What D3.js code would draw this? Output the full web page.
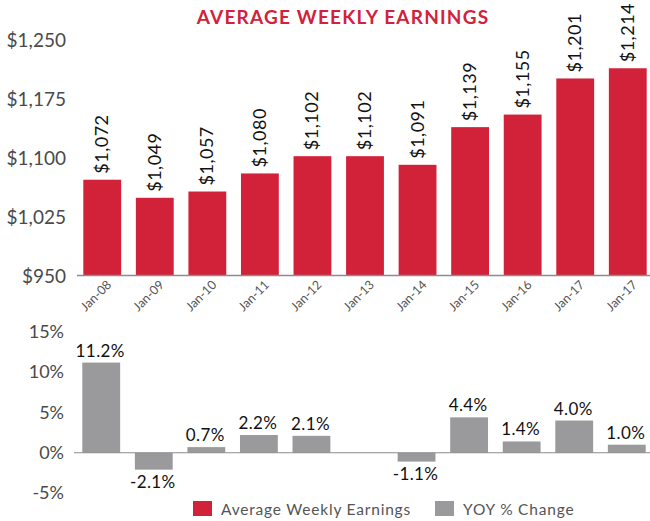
<!DOCTYPE html>
<html>
<head>
<meta charset="utf-8">
<script src="https://cdn.jsdelivr.net/npm/d3@7"></script>
<style>
  body { margin: 0; background: #fff; }
  svg { display: block; font-family: Lato, 'Open Sans', sans-serif; }
</style>
</head>
<body>
<svg id="chart" width="650" height="521"></svg>
<script>
/* global d3 */

var categories = ['Jan-08', 'Jan-09', 'Jan-10', 'Jan-11', 'Jan-12', 'Jan-13', 'Jan-14', 'Jan-15', 'Jan-16', 'Jan-17', 'Jan-17']
var earnings = [1072, 1049, 1057, 1080, 1102, 1102, 1091, 1139, 1155, 1201, 1214]
var yoyChange = [11.2, -2.1, 0.7, 2.2, 2.1, null, -1.1, 4.4, 1.4, 4.0, 1.0]
var earningsTicks = [950, 1025, 1100, 1175, 1250]
var yoyTicks = [-5, 0, 5, 10, 15]
var legendItems = ['Average Weekly Earnings', 'YOY % Change']

;(function () {
  var red = '#d2223a'
  var grey = '#9a9a9c'
  var axisText = '#4a4a4a'

  var svg = d3.select('#chart')

  var x = d3.scaleBand()
    .domain(d3.range(categories.length))
    .range([77, 653])
    .paddingInner(0.28)
    .paddingOuter(0.12)

  // plain hyphen for negatives, like the original
  var pct = v => d3.format('.1f')(v).replace('\u2212', '-') + '%'

  /*
      --------------------------------------
      Title
  */
  svg.append('text')
    .attr('x', 343)
    .attr('y', 24)
    .attr('text-anchor', 'middle')
    .style('font-size', '19px')
    .style('font-weight', 700)
    .style('letter-spacing', '1.2px')
    .style('fill', red)
    .text('AVERAGE WEEKLY EARNINGS')

  /*
      --------------------------------------
      Top chart: average weekly earnings
  */
  var yTop = d3.scaleLinear()
    .domain([950, 1250])
    .range([275.5, 40])

  svg.append('g')
    .selectAll('text')
    .data(earningsTicks)
    .join('text')
    .attr('x', 66)
    .attr('y', d => yTop(d) + 7)
    .attr('text-anchor', 'end')
    .style('font-size', '19px')
    .style('fill', axisText)
    .text(d => d3.format('$,')(d))

  svg.append('g')
    .selectAll('rect')
    .data(earnings)
    .join('rect')
    .attr('x', (d, i) => x(i))
    .attr('width', x.bandwidth())
    .attr('y', d => yTop(d))
    .attr('height', d => yTop(950) - yTop(d))
    .style('fill', red)

  svg.append('line')
    .attr('x1', 77)
    .attr('x2', 650)
    .attr('y1', yTop(950))
    .attr('y2', yTop(950))
    .style('stroke', '#8c8c8c')
    .style('stroke-width', 1.5)

  svg.append('g')
    .selectAll('text')
    .data(earnings)
    .join('text')
    .attr('transform', (d, i) => `translate(${x(i) + x.bandwidth() / 2 + 6},${yTop(d) - 6}) rotate(-90)`)
    .style('font-size', '18px')
    .style('letter-spacing', '0.5px')
    .style('fill', '#111')
    .text(d => d3.format('$,')(d))

  svg.append('g')
    .selectAll('text')
    .data(categories)
    .join('text')
    .attr('transform', (d, i) => `translate(${x(i) + x.bandwidth() / 2 + 10},${yTop(950) + 10}) rotate(-45)`)
    .attr('text-anchor', 'end')
    .style('font-size', '12.5px')
    .style('fill', '#555')
    .text(d => d)

  /*
      --------------------------------------
      Bottom chart: YOY % change
  */
  var yBot = d3.scaleLinear()
    .domain([-5, 15])
    .range([493, 332])

  svg.append('g')
    .selectAll('text')
    .data(yoyTicks)
    .join('text')
    .attr('x', 64)
    .attr('y', d => yBot(d) + 6)
    .attr('text-anchor', 'end')
    .style('font-size', '18px')
    .style('fill', axisText)
    .text(d => d + '%')

  var yoy = yoyChange.map((v, i) => ({v: v, i: i})).filter(d => d.v !== null)

  svg.append('g')
    .selectAll('rect')
    .data(yoy)
    .join('rect')
    .attr('x', d => x(d.i) - 1)
    .attr('width', x.bandwidth())
    .attr('y', d => yBot(Math.max(0, d.v)))
    .attr('height', d => Math.abs(yBot(d.v) - yBot(0)))
    .style('fill', grey)

  svg.append('line')
    .attr('x1', 74)
    .attr('x2', 650)
    .attr('y1', yBot(0))
    .attr('y2', yBot(0))
    .style('stroke', '#8c8c8c')
    .style('stroke-width', 1)

  svg.append('g')
    .selectAll('text')
    .data(yoy)
    .join('text')
    .attr('x', d => x(d.i) + x.bandwidth() / 2 - 2)
    .attr('y', d => d.v >= 0 ? yBot(d.v) - 6 : yBot(d.v) + 18)
    .attr('text-anchor', 'middle')
    .style('font-size', '17px')
    .style('letter-spacing', '0.4px')
    .style('fill', '#111')
    .text(d => pct(d.v))

  /*
      --------------------------------------
      Legend
  */
  var legendX = [193, 435]
  var legendColors = [red, grey]

  var legend = svg.append('g')
    .selectAll('g')
    .data(legendItems)
    .join('g')
    .attr('transform', (d, i) => `translate(${legendX[i]},501)`)

  legend.append('rect')
    .attr('width', 19)
    .attr('height', 15)
    .style('fill', (d, i) => legendColors[i])

  legend.append('text')
    .attr('x', 28)
    .attr('y', 14)
    .style('font-size', '15.5px')
    .style('letter-spacing', '0.8px')
    .style('fill', '#555')
    .text(d => d)
})()
</script>
</body>
</html>
